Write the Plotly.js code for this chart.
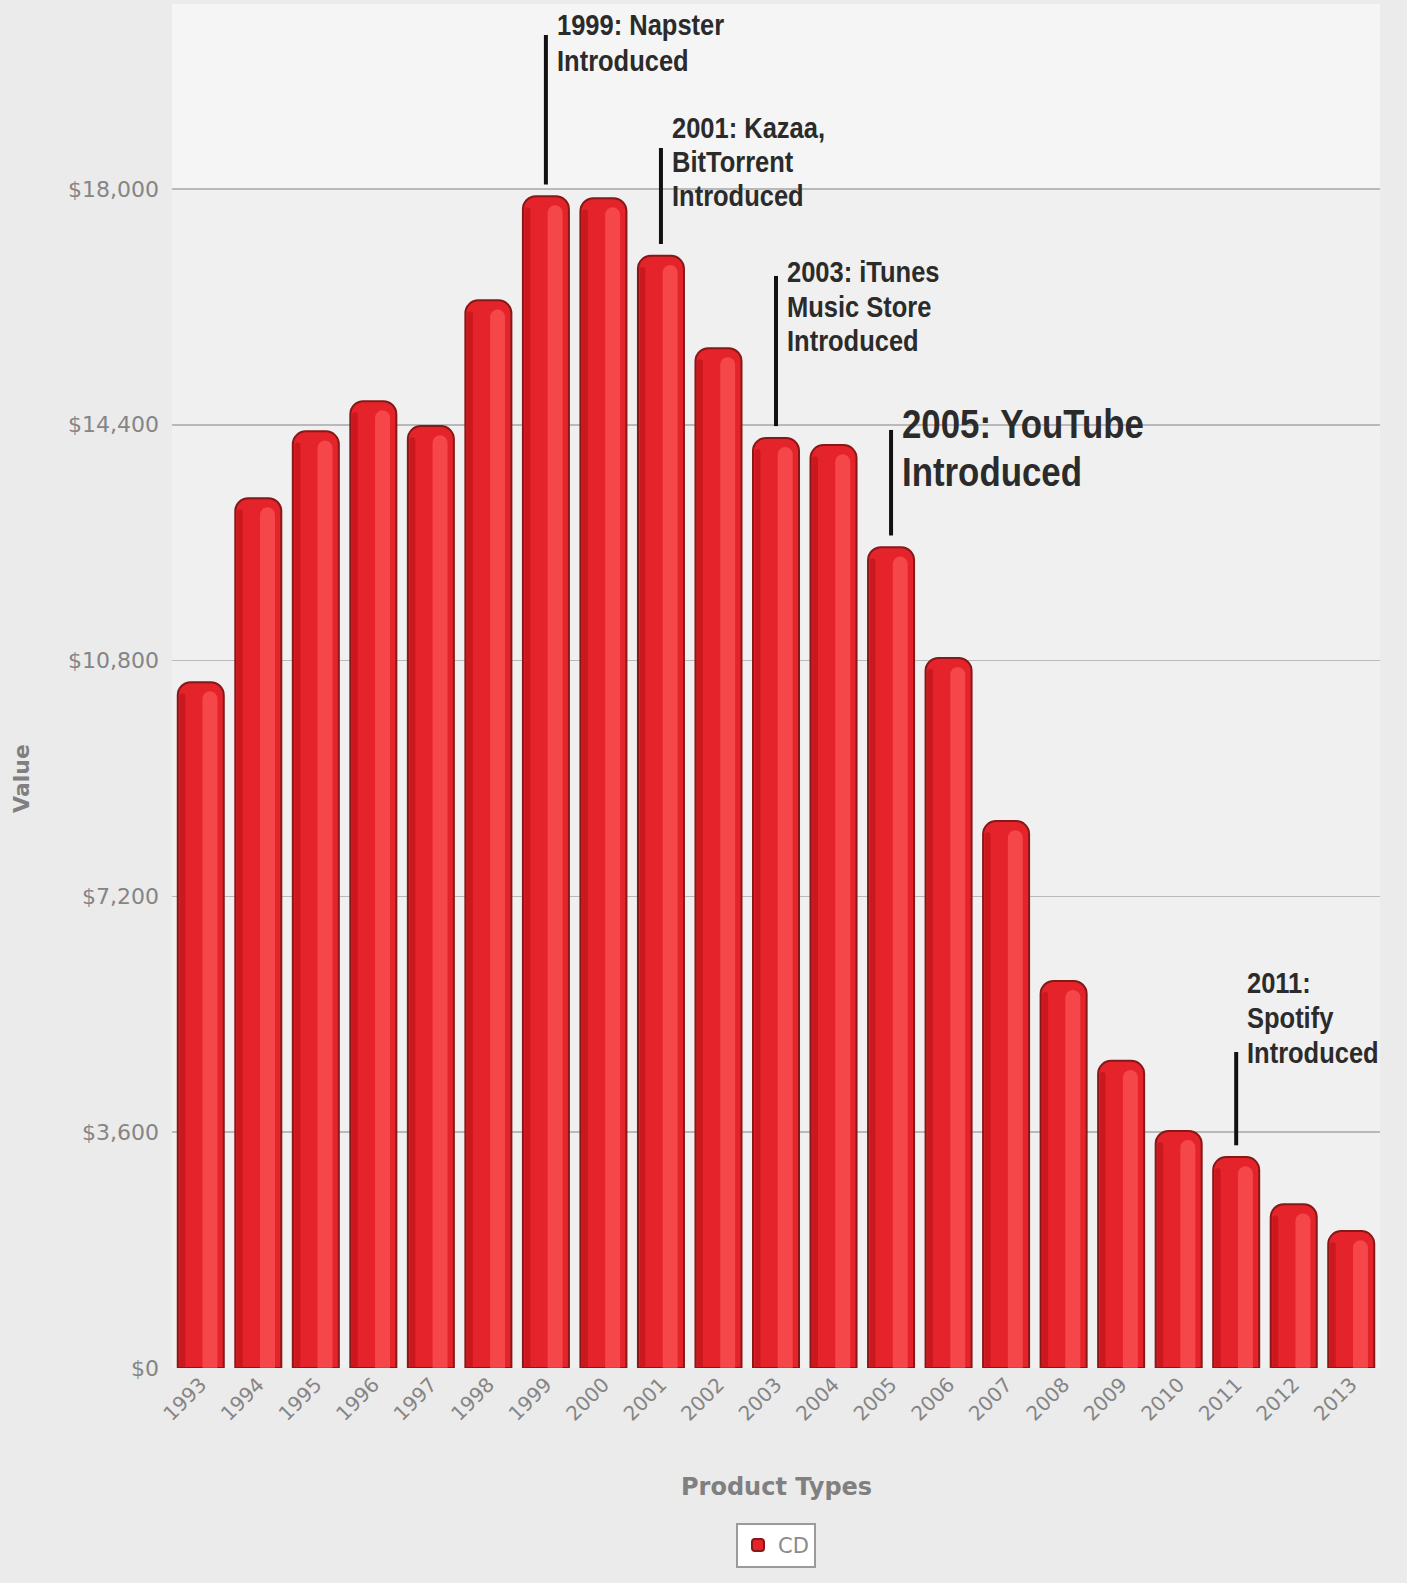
<!DOCTYPE html>
<html>
<head>
<meta charset="utf-8">
<script src="https://cdn.plot.ly/plotly-3.0.1.min.js"></script>
<style>
  html, body { margin: 0; padding: 0; background: #ebebeb; }
  #chart { width: 1407px; height: 1583px; }
</style>
</head>
<body>
<div id="chart"></div>
<script>
// ---- data ----
var years = ["1993","1994","1995","1996","1997","1998","1999","2000","2001","2002","2003",
             "2004","2005","2006","2007","2008","2009","2010","2011","2012","2013"];
var cdValues = [10470, 13280, 14300, 14760, 14380, 16300, 17890, 17860, 16980, 15570, 14200,
                14090, 12530, 10840, 8350, 5910, 4690, 3620, 3220, 2500, 2090];
var yTickVals = [0, 3600, 7200, 10800, 14400, 18000];
var yTickText = ["$0", "$3,600", "$7,200", "$10,800", "$14,400", "$18,000"];
var seriesName = "CD";
var xTitle = "Product Types";
var yTitle = "Value";

var eventYears = ["1999", "2001", "2003", "2005", "2011"];
var eventLabels = [
  "1999: Napster<br>Introduced",
  "2001: Kazaa,<br>BitTorrent<br>Introduced",
  "2003: iTunes<br>Music Store<br>Introduced",
  "2005: YouTube<br>Introduced",
  "2011:<br>Spotify<br>Introduced"
];

// ---- layout helpers (styling / placement) ----
var lineTops   = [20351, 18626, 16672, 14321, 4824];
var firstLineY = [20504, 18931, 16733, 14412, 5878];
var lineGap    = [36, 34, 34.5, 48, 35];
var textSizes  = [30, 30, 30, 41, 30];
var annFont = "'Liberation Sans', Arial, sans-serif";
var labelFont = "'DejaVu Sans', Verdana, sans-serif";

var shapes = [
  // lighter band above the top gridline
  { type: "rect", xref: "paper", yref: "y", x0: 0, x1: 1, y0: 18000, y1: 20824,
    fillcolor: "#f5f5f5", line: { width: 0 }, layer: "below" }
];
var annotations = [];
eventYears.forEach(function (yr, i) {
  var idx = years.indexOf(yr);
  var v = cdValues[idx];
  shapes.push({
    type: "line", xref: "x", yref: "y",
    x0: idx, x1: idx, y0: v + 180, y1: lineTops[i],
    line: { color: "#111111", width: 4 }
  });
  eventLabels[i].split("<br>").forEach(function (line, k) {
    annotations.push({
      xref: "x", yref: "y", x: idx, y: firstLineY[i],
      xanchor: "left", yanchor: "middle", xshift: 9, yshift: -k * lineGap[i],
      align: "left", showarrow: false,
      text: "<b>" + line + "</b>",
      font: { family: annFont, size: textSizes[i], color: "#2b2b2b" }
    });
  });
});

// axis titles as paper annotations
annotations.push({
  xref: "paper", yref: "paper", x: 0.5, y: -0.0872, xanchor: "center", yanchor: "middle",
  showarrow: false, text: "<b>" + xTitle + "</b>",
  font: { family: labelFont, size: 24, color: "#808080" }
});
annotations.push({
  xref: "paper", yref: "paper", x: -0.1242, y: 0.4326, xanchor: "center", yanchor: "middle",
  showarrow: false, textangle: -90, text: "<b>" + yTitle + "</b>",
  font: { family: labelFont, size: 22, color: "#808080" }
});

var mainTrace = {
  type: "bar",
  x: years,
  y: cdValues,
  name: seriesName,
  width: 0.8,
  marker: {
    color: "#e5232a",
    line: { color: "#861818", width: 2 },
    cornerradius: 13
  },
  hoverinfo: "x+y"
};

// soft highlight on the right half of each bar (cylinder look)
var highlightTrace = {
  type: "bar",
  x: years,
  y: cdValues.map(function (v) { return v - 140; }),
  width: 0.26,
  offset: 0.03,
  showlegend: false,
  hoverinfo: "skip",
  marker: {
    color: "rgba(255,95,95,0.6)",
    line: { width: 0 },
    cornerradius: 9
  }
};

// darker shade on left edge
var shadeTrace = {
  type: "bar",
  x: years,
  y: cdValues.map(function (v) { return v - 170; }),
  width: 0.1,
  offset: -0.37,
  showlegend: false,
  hoverinfo: "skip",
  marker: {
    color: "rgba(170,10,15,0.45)",
    line: { width: 0 },
    cornerradius: 4
  }
};

var layout = {
  width: 1407, height: 1583,
  paper_bgcolor: "#ebebeb",
  plot_bgcolor: "#f0f0f0",
  margin: { l: 172, r: 27, t: 4, b: 215 },
  barmode: "overlay",
  showlegend: true,
  legend: {
    orientation: "h", x: 0.5, xanchor: "center", y: -0.1136, yanchor: "top",
    bgcolor: "#ffffff", bordercolor: "#9a9a9a", borderwidth: 2,
    font: { family: labelFont, size: 21, color: "#8a8a8a" },
    itemwidth: 30
  },
  xaxis: {
    type: "category",
    range: [-0.5, years.length - 0.5],
    autorange: false,
    tickangle: -45,
    tickfont: { family: labelFont, size: 20, color: "#858585" },
    ticks: "", showgrid: false, zeroline: false, showline: false
  },
  yaxis: {
    range: [0, 20824],
    autorange: false,
    tickmode: "array",
    tickvals: yTickVals,
    ticktext: yTickText,
    tickfont: { family: labelFont, size: 22, color: "#858585" },
    ticks: "", ticklabelstandoff: 12,
    showgrid: true, gridcolor: "#b9b9b9", gridwidth: 1.5,
    zeroline: false, showline: false
  },
  shapes: shapes,
  annotations: annotations
};

Plotly.newPlot("chart", [mainTrace, shadeTrace, highlightTrace], layout,
               { displayModeBar: false, staticPlot: true }).then(function (gd) {
  // condense the event lettering horizontally (reference uses a condensed typeface)
  var s = 0.85;
  var nEventLines = annotations.length - 2;
  gd.querySelectorAll(".annotation").forEach(function (g) {
    var idx = +g.getAttribute("data-index");
    if (idx >= nEventLines) return;
    var t = g.querySelector("text");
    if (!t) return;
    var bb = t.getBBox();
    t.setAttribute("transform", "matrix(" + s + ",0,0,1," + ((1 - s) * bb.x) + ",0)");
  });
});
</script>
</body>
</html>
